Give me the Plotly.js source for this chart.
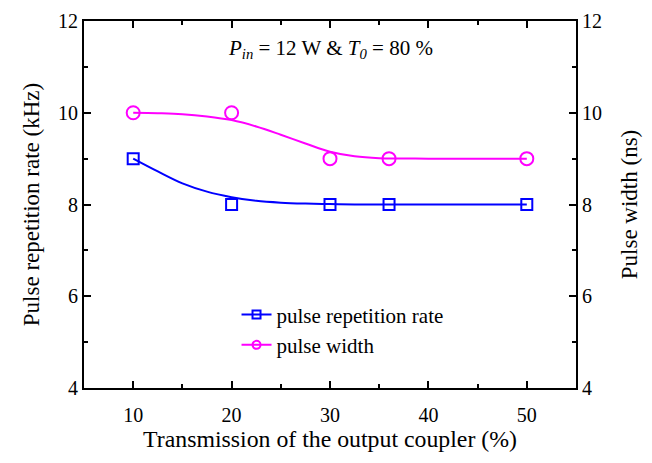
<!DOCTYPE html>
<html><head><meta charset="utf-8">
<script src="https://cdn.plot.ly/plotly-3.0.1.min.js"></script>
<style>html,body{margin:0;padding:0;background:#fff}</style>
</head><body><div id="chart" style="width:652px;height:463px"></div>
<script>
// measured data points
const transmission = [10, 20, 30, 36, 50];
const repRate = [9, 8, 8, 8, 8];
const pulseWidth = [10, 10, 9, 9, 9];
// fitted curves
const fitX = [10, 12.5, 15, 17.5, 20, 22.5, 25, 27.5, 30, 32.5, 35, 40, 45, 50];
const fitRepRate = [9.0, 8.72, 8.46, 8.28, 8.16, 8.08, 8.04, 8.02, 8.01, 8.0, 8.0, 8.0, 8.0, 8.0];
const fitPulseWidth = [10.0, 9.99, 9.97, 9.92, 9.84, 9.70, 9.52, 9.33, 9.15, 9.05, 9.01, 9.0, 9.0, 9.0];

const BLUE = '#0000ff', MAG = '#ff00ff';
const F = 'Liberation Serif, Times New Roman, serif';

const traces = [
  {x: fitX, y: fitRepRate, mode: 'lines', line: {color: BLUE, width: 2, shape: 'spline'}, showlegend: false, hoverinfo: 'skip'},
  {x: fitX, y: fitPulseWidth, mode: 'lines', line: {color: MAG, width: 2, shape: 'spline'}, showlegend: false, hoverinfo: 'skip', yaxis: 'y2'},
  {x: transmission, y: repRate, mode: 'markers', marker: {symbol: 'square-open', size: 11, color: BLUE, line: {width: 2, color: BLUE}}, showlegend: false},
  {x: transmission, y: pulseWidth, mode: 'markers', marker: {symbol: 'circle-open', size: 13, color: MAG, line: {width: 2, color: MAG}}, showlegend: false, yaxis: 'y2'},
  {x: [null], y: [null], mode: 'lines+markers', name: 'pulse repetition rate', line: {color: BLUE, width: 2}, marker: {symbol: 'square-open', size: 8, color: BLUE, line: {width: 2, color: BLUE}}},
  {x: [null], y: [null], mode: 'lines+markers', name: 'pulse width', line: {color: MAG, width: 2}, marker: {symbol: 'circle-open', size: 8, color: MAG, line: {width: 2, color: MAG}}}
];

const axCommon = {
  showline: true, linecolor: '#000', linewidth: 2, ticks: 'inside', ticklen: 7, tickwidth: 2, tickcolor: '#000',
  showgrid: false, zeroline: false, tickfont: {family: F, size: 20, color: '#000'}
};

const layout = {
  width: 652, height: 463,
  margin: {l: 84, r: 76, t: 21, b: 75},
  paper_bgcolor: '#fff', plot_bgcolor: '#fff',
  font: {family: F, color: '#000'},
  xaxis: Object.assign({}, axCommon, {
    range: [5, 55], tickvals: [10, 20, 30, 40, 50], mirror: 'ticks', ticklabelstandoff: 8,
    minor: {ticks: 'inside', ticklen: 4, tickwidth: 2, tickcolor: '#000', tickvals: [15, 25, 35, 45]},
    title: {text: 'Transmission of the output coupler (%)', font: {family: F, size: 23.8}, standoff: 5}
  }),
  yaxis: Object.assign({}, axCommon, {
    range: [4, 12], tickvals: [4, 6, 8, 10, 12],
    minor: {ticks: 'inside', ticklen: 4, tickwidth: 2, tickcolor: '#000', tickvals: [5, 7, 9, 11]},
    title: {text: 'Pulse repetition rate (kHz)', font: {family: F, size: 23}, standoff: 12}
  }),
  yaxis2: Object.assign({}, axCommon, {
    range: [4, 12], tickvals: [4, 6, 8, 10, 12], overlaying: 'y', side: 'right',
    minor: {ticks: 'inside', ticklen: 4, tickwidth: 2, tickcolor: '#000', tickvals: [5, 7, 9, 11]},
    title: {text: 'Pulse width (ns)', font: {family: F, size: 23}, standoff: 20}
  }),
  legend: {x: 0.31, y: 0.255, xanchor: 'left', yanchor: 'top', bgcolor: 'rgba(0,0,0,0)', font: {family: F, size: 21, color: '#000'}, itemwidth: 30, tracegroupgap: 0},
  annotations: [{
    xref: 'paper', yref: 'paper', x: 0.5, y: 0.925, xanchor: 'center', yanchor: 'middle', showarrow: false,
    text: '<i>P</i><sub><i>in</i></sub> = 12 W &amp; <i>T</i><sub><i>0</i></sub> = 80 %',
    font: {family: F, size: 21, color: '#000'}
  }]
};

Plotly.newPlot('chart', traces, layout, {displayModeBar: false, staticPlot: true});
</script></body></html>
